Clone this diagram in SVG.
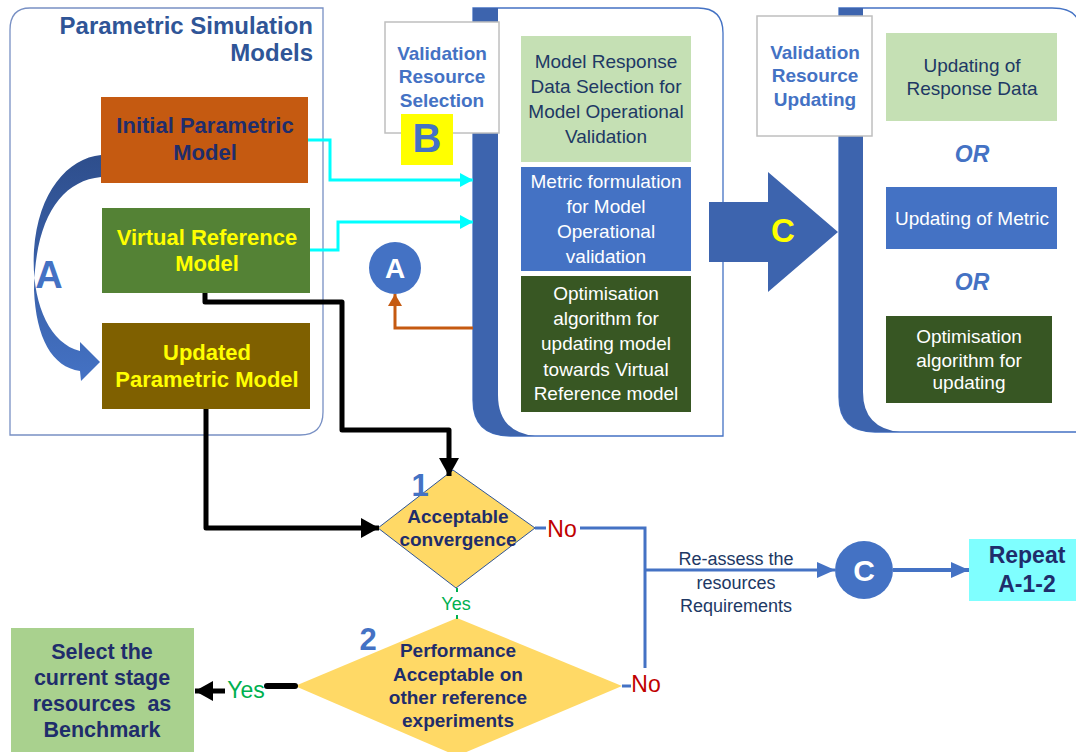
<svg xmlns="http://www.w3.org/2000/svg" width="1076" height="752" viewBox="0 0 1076 752">
<style>
  text { font-family: "Liberation Sans", Arial, sans-serif; text-anchor: middle; }
  .b { font-weight: bold; }
  .navy { fill: #1F2D6B; }
  .dk { fill: #203864; }
  .yel { fill: #FFFF00; }
  .wht { fill: #FFFFFF; }
  .blu { fill: #4472C4; }
  .t19 { font-size: 19px; }
  .t22 { font-size: 22px; }
  .or { font-size: 23px; font-weight: bold; font-style: italic; fill: #4472C4; }
  .red { fill: #C00000; font-size: 23px; }
  .grn { fill: #00B050; }
  .conn { fill: none; }
</style>
<defs>
  <linearGradient id="gA" x1="0" y1="0" x2="0" y2="1">
    <stop offset="0" stop-color="#2E4E8C"/>
    <stop offset="1" stop-color="#4472C4"/>
  </linearGradient>
  <marker id="mCyan" markerUnits="userSpaceOnUse" markerWidth="14" markerHeight="14" refX="13" refY="7" orient="auto">
    <path d="M0,0 L13,7 L0,14 Z" fill="#00FFFF"/>
  </marker>
  <marker id="mBlack" markerUnits="userSpaceOnUse" markerWidth="20" markerHeight="20" refX="18" refY="10" orient="auto">
    <path d="M0,0 L18,10 L0,20 Z" fill="#000000"/>
  </marker>
  <marker id="mBlue" markerUnits="userSpaceOnUse" markerWidth="20" markerHeight="20" refX="18" refY="10" orient="auto">
    <path d="M0,2 L18,10 L0,18 Z" fill="#4472C4"/>
  </marker>
  <marker id="mOrange" markerUnits="userSpaceOnUse" markerWidth="14" markerHeight="14" refX="12" refY="7" orient="auto">
    <path d="M0,0 L12,7 L0,14 Z" fill="#C55A11"/>
  </marker>
</defs>

<!-- Parametric simulation models panel -->
<g id="panel-models">
  <path d="M30,8 H323 V412 Q323,435 300,435 H10 V30 Q10,8 30,8 Z" fill="#FFFFFF" stroke="#7890C4" stroke-width="1.3"/>
  <text x="313" y="34" class="b" font-size="24" fill="#2F5597" style="text-anchor:end">Parametric Simulation</text>
  <text x="313" y="61" class="b" font-size="24" fill="#2F5597" style="text-anchor:end">Models</text>
</g>

<g id="node-initial">
  <rect x="101" y="97" width="207" height="86" fill="#C55A11"/>
  <text x="205" y="133" class="b t22 navy">Initial Parametric</text>
  <text x="205" y="160" class="b t22 navy">Model</text>
</g>
<g id="node-virtual">
  <rect x="102" y="208" width="208" height="85" fill="#548235"/>
  <text x="207" y="245" class="b t22 yel">Virtual Reference</text>
  <text x="207" y="271" class="b t22 yel">Model</text>
</g>
<g id="node-updated">
  <rect x="102" y="323" width="208" height="86" fill="#7F6000"/>
  <text x="207" y="360" class="b t22 yel">Updated</text>
  <text x="207" y="387" class="b t22 yel">Parametric Model</text>
</g>

<!-- curved update arrow A -->
<g id="arrow-A">
  <path d="M101,155 C68,158 38,192 34,250 C31,300 48,343 80,351 L80,342 L100,362 L81,381 L80,371 C52,367 36,338 34,290 C35,220 60,181 101,177 Z" fill="url(#gA)"/>
  <text x="49" y="288" class="b blu" font-size="38">A</text>
</g>

<!-- validation resource selection panel -->
<g id="panel-B">
  <path d="M473,8 H698 Q723,8 723,33 V436 H510 Q473,436 473,400 Z" fill="#FFFFFF" stroke="#4472C4" stroke-width="1.3"/>
  <path d="M473,8 H498 V395 Q498,432 535,436 H510 Q473,436 473,400 Z" fill="#3D64AE"/>
</g>
<g id="label-B">
  <rect x="385" y="22" width="114" height="111" fill="#FFFFFF" stroke="#BFBFBF" stroke-width="1.5"/>
  <text x="442" y="60" class="b blu t19">Validation</text>
  <text x="442" y="83" class="b blu t19">Resource</text>
  <text x="442" y="107" class="b blu t19">Selection</text>
  <rect x="401" y="114" width="52" height="51" fill="#FFFF00"/>
  <text x="427" y="152" class="b blu" font-size="40">B</text>
</g>
<g id="node-response-selection">
  <rect x="521" y="36" width="170" height="126" fill="#C5E0B4"/>
  <text x="606" y="68" class="t19 dk">Model Response</text>
  <text x="606" y="93" class="t19 dk">Data Selection for</text>
  <text x="606" y="118" class="t19 dk">Model Operational</text>
  <text x="606" y="143" class="t19 dk">Validation</text>
</g>
<g id="node-metric">
  <rect x="521" y="167" width="170" height="104" fill="#4472C4"/>
  <text x="606" y="188" class="t19 wht">Metric formulation</text>
  <text x="606" y="213" class="t19 wht">for Model</text>
  <text x="606" y="238" class="t19 wht">Operational</text>
  <text x="606" y="263" class="t19 wht">validation</text>
</g>
<g id="node-optimisation">
  <rect x="521" y="276" width="170" height="136" fill="#385723"/>
  <text x="606" y="300" class="t19 wht">Optimisation</text>
  <text x="606" y="325" class="t19 wht">algorithm for</text>
  <text x="606" y="350" class="t19 wht">updating model</text>
  <text x="606" y="376" class="t19 wht">towards Virtual</text>
  <text x="606" y="400" class="t19 wht">Reference model</text>
</g>
<g id="node-circle-A">
  <circle cx="395" cy="268" r="26" fill="#4472C4"/>
  <text x="395" y="278" class="b wht" font-size="28">A</text>
</g>

<!-- big arrow C -->
<g id="arrow-C">
  <path d="M709,202 H768 V172 L838,232 L768,292 V262 H709 Z" fill="#3D64AE"/>
  <text x="783" y="242" class="b yel" font-size="33">C</text>
</g>

<!-- validation resource updating panel -->
<g id="panel-C">
  <path d="M839,8 H1052 Q1080,8 1080,30 V432 H875 Q839,432 839,397 Z" fill="#FFFFFF" stroke="#4472C4" stroke-width="1.3"/>
  <path d="M839,8 H863 V392 Q863,428 900,432 H875 Q839,432 839,397 Z" fill="#3D64AE"/>
</g>
<g id="label-C">
  <rect x="757" y="16" width="115" height="120" fill="#FFFFFF" stroke="#BFBFBF" stroke-width="1.5"/>
  <text x="815" y="59" class="b blu t19">Validation</text>
  <text x="815" y="82" class="b blu t19">Resource</text>
  <text x="815" y="106" class="b blu t19">Updating</text>
</g>
<g id="node-update-response">
  <rect x="886" y="33" width="171" height="88" fill="#C5E0B4"/>
  <text x="972" y="72" class="t19 dk">Updating of</text>
  <text x="972" y="95" class="t19 dk">Response Data</text>
</g>
<text x="972" y="162" class="or">OR</text>
<g id="node-update-metric">
  <rect x="886" y="187" width="171" height="62" fill="#4472C4"/>
  <text x="972" y="225" class="t19 wht">Updating of Metric</text>
</g>
<text x="972" y="290" class="or">OR</text>
<g id="node-update-optimisation">
  <rect x="886" y="316" width="166" height="87" fill="#375623"/>
  <text x="969" y="343" class="t19 wht">Optimisation</text>
  <text x="969" y="367" class="t19 wht">algorithm for</text>
  <text x="969" y="389" class="t19 wht">updating</text>
</g>

<!-- decisions -->
<g id="node-decision-1">
  <polygon points="453,470 535,528 456,588 378,528" fill="#FFD966" stroke="#2F5597" stroke-width="1"/>
  <text x="458" y="523" class="b t19 navy">Acceptable</text>
  <text x="458" y="546" class="b t19 navy">convergence</text>
  <text x="420" y="496" class="b blu" font-size="31">1</text>
</g>
<g id="node-decision-2">
  <polygon points="457,618 622,686 457,756 295,686" fill="#FFD966"/>
  <text x="458" y="657" class="b t19 navy">Performance</text>
  <text x="458" y="681" class="b t19 navy">Acceptable on</text>
  <text x="458" y="704" class="b t19 navy">other reference</text>
  <text x="458" y="727" class="b t19 navy">experiments</text>
  <text x="368" y="650" class="b blu" font-size="31">2</text>
</g>
<g id="node-circle-C">
  <circle cx="864" cy="570" r="29" fill="#4472C4"/>
  <text x="864" y="581" class="b wht" font-size="30">C</text>
</g>
<g id="node-repeat">
  <rect x="969" y="539" width="107" height="62" fill="#7FFFFF"/>
  <text x="1027" y="563" class="b navy" font-size="23">Repeat</text>
  <text x="1027" y="592" class="b navy" font-size="23">A-1-2</text>
</g>
<g id="node-benchmark">
  <rect x="11" y="628" width="183" height="130" fill="#A9D18E"/>
  <text x="102" y="659" class="b navy" font-size="21.5">Select the</text>
  <text x="102" y="685" class="b navy" font-size="21.5">current stage</text>
  <text x="102" y="711" class="b navy" font-size="21.5" style="white-space:pre">resources  as</text>
  <text x="102" y="737" class="b navy" font-size="21.5">Benchmark</text>
</g>

<!-- connectors -->
<g id="connectors" class="conn">
  <path d="M308,140 H330 V180 H473" stroke="#00FFFF" stroke-width="3" marker-end="url(#mCyan)"/>
  <path d="M310,250 H338 V222 H473" stroke="#00FFFF" stroke-width="3" marker-end="url(#mCyan)"/>
  <path d="M473,328 H395 V294" stroke="#C55A11" stroke-width="3" marker-end="url(#mOrange)"/>
  <path d="M205,293 V302 H342 V430 H449 V476" stroke="#000000" stroke-width="5" stroke-linejoin="round" marker-end="url(#mBlack)"/>
  <path d="M206,409 V528 H379" stroke="#000000" stroke-width="5" stroke-linejoin="round" marker-end="url(#mBlack)"/>
  <path d="M535,528 H546" stroke="#4472C4" stroke-width="3"/>
  <path d="M580,528 H645 V668" stroke="#4472C4" stroke-width="3"/>
  <path d="M645,570 H835" stroke="#4472C4" stroke-width="3" marker-end="url(#mBlue)"/>
  <path d="M893,570 H969" stroke="#4472C4" stroke-width="4" marker-end="url(#mBlue)"/>
  <path d="M622,686 H631" stroke="#4472C4" stroke-width="3"/>
  <path d="M457,588 V592 M457,615 V619" stroke="#00B050" stroke-width="2"/>
  <path d="M295,686 H267" stroke="#000000" stroke-width="6" stroke-linecap="round"/>
  <path d="M225,691 H195" stroke="#000000" stroke-width="5" marker-end="url(#mBlack)"/>
  <text x="562" y="537" class="red">No</text>
  <text x="646" y="692" class="red">No</text>
  <text x="456" y="610" class="grn" font-size="18">Yes</text>
  <text x="246" y="698" class="grn" font-size="23">Yes</text>
  <text x="736" y="565" class="dk" font-size="18">Re-assess the</text>
  <text x="736" y="589" class="dk" font-size="18">resources</text>
  <text x="736" y="612" class="dk" font-size="18">Requirements</text>
</g>
</svg>
